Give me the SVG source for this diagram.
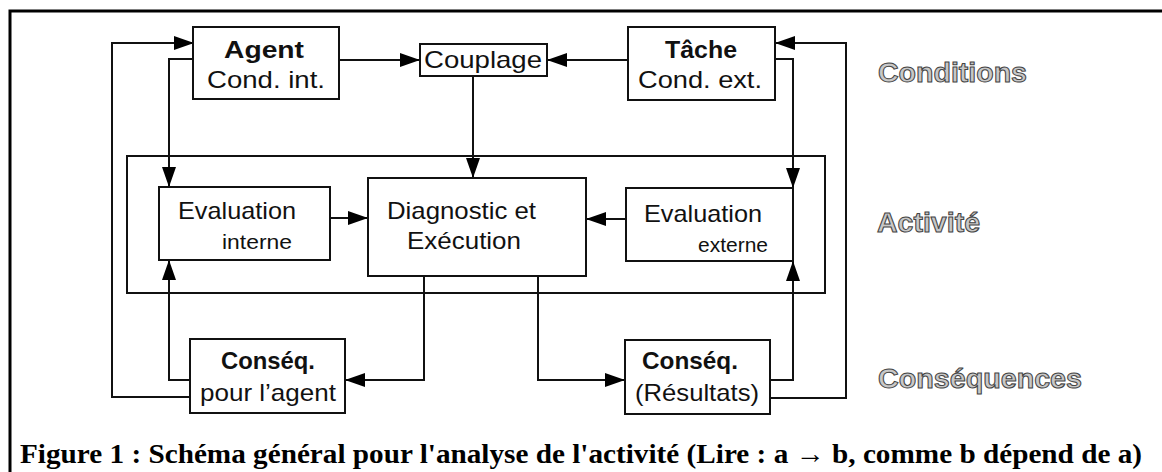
<svg xmlns="http://www.w3.org/2000/svg" width="1162" height="472" viewBox="0 0 1162 472">
<defs>
<marker id="ah" markerUnits="userSpaceOnUse" markerWidth="20" markerHeight="14" refX="19" refY="7" orient="auto">
<path d="M0,0 L20,7 L0,14 Z" fill="#000"/>
</marker>
<style>
.box{fill:#fff;stroke:#111;stroke-width:2}
.c{fill:none;stroke:#111;stroke-width:2;marker-end:url(#ah)}
.t{font-family:"Liberation Sans",Arial,sans-serif;font-size:24px;fill:#111}
.b{font-weight:bold}
.s{font-size:21px}
.lab{font-family:"Liberation Sans",Arial,sans-serif;font-size:27px;font-weight:bold;fill:#c8c8c8;stroke:#444;stroke-width:1}
.cap{font-family:"Liberation Serif","Times New Roman",serif;font-size:28px;font-weight:bold;fill:#000}
</style>
</defs>
<rect width="1162" height="472" fill="#fff"/>
<path d="M1162,11 H10 V472" fill="none" stroke="#000" stroke-width="3"/>
<g id="activite-frame"><rect x="127" y="156" width="698" height="137" fill="none" stroke="#111" stroke-width="2"/></g>
<g id="connectors">
<path class="c" d="M190,397 H112 V43 H193"/>
<path class="c" d="M193,59 H169 V186"/>
<path class="c" d="M190,380 H169 V261"/>
<path class="c" d="M339,60 H419"/>
<path class="c" d="M627,60 H548"/>
<path class="c" d="M473,76 V177"/>
<path class="c" d="M330,218 H367"/>
<path class="c" d="M626,219 H587"/>
<path class="c" d="M775,59 H793 V187"/>
<path class="c" d="M770,380 H793 V262"/>
<path class="c" d="M770,398 H846 V43 H776"/>
<path class="c" d="M424,276 V380 H346"/>
<path class="c" d="M538,276 V380 H624"/>
</g>
<g id="agent"><rect class="box" x="193" y="27" width="146" height="72"/>
<text class="t b" x="264" y="58" text-anchor="middle" textLength="80" lengthAdjust="spacingAndGlyphs">Agent</text>
<text class="t" x="266" y="88" text-anchor="middle" textLength="118" lengthAdjust="spacingAndGlyphs">Cond. int.</text></g>
<g id="couplage"><rect class="box" x="420" y="44" width="127" height="32"/>
<text class="t" x="483" y="68" text-anchor="middle" textLength="118" lengthAdjust="spacingAndGlyphs">Couplage</text></g>
<g id="tache"><rect class="box" x="628" y="27" width="147" height="73"/>
<text class="t b" x="701" y="58" text-anchor="middle" textLength="72" lengthAdjust="spacingAndGlyphs">Tâche</text>
<text class="t" x="700" y="88" text-anchor="middle" textLength="124" lengthAdjust="spacingAndGlyphs">Cond. ext.</text></g>
<g id="eval-interne"><rect class="box" x="159" y="187" width="171" height="73"/>
<text class="t" x="178" y="219" textLength="118" lengthAdjust="spacingAndGlyphs">Evaluation</text>
<text class="t s" x="222" y="249" textLength="70" lengthAdjust="spacingAndGlyphs">interne</text></g>
<g id="diagnostic"><rect class="box" x="368" y="178" width="218" height="98"/>
<text class="t" x="387" y="219" textLength="149" lengthAdjust="spacingAndGlyphs">Diagnostic et</text>
<text class="t" x="407" y="249" textLength="114" lengthAdjust="spacingAndGlyphs">Exécution</text></g>
<g id="eval-externe"><rect class="box" x="626" y="188" width="167" height="73"/>
<text class="t" x="644" y="222" textLength="118" lengthAdjust="spacingAndGlyphs">Evaluation</text>
<text class="t s" x="698" y="252" textLength="70" lengthAdjust="spacingAndGlyphs">externe</text></g>
<g id="conseq-agent"><rect class="box" x="190" y="339" width="155" height="74"/>
<text class="t b" x="268" y="369" text-anchor="middle" textLength="94" lengthAdjust="spacingAndGlyphs">Conséq.</text>
<text class="t" x="268" y="401" text-anchor="middle" textLength="136" lengthAdjust="spacingAndGlyphs">pour l’agent</text></g>
<g id="conseq-resultats"><rect class="box" x="625" y="340" width="145" height="74"/>
<text class="t b" x="690" y="369" text-anchor="middle" textLength="96" lengthAdjust="spacingAndGlyphs">Conséq.</text>
<text class="t" x="697" y="401" text-anchor="middle" textLength="124" lengthAdjust="spacingAndGlyphs">(Résultats)</text></g>
<g id="labels">
<text class="lab" x="878" y="82" textLength="149" lengthAdjust="spacingAndGlyphs">Conditions</text>
<text class="lab" x="877" y="232" textLength="103" lengthAdjust="spacingAndGlyphs">Activité</text>
<text class="lab" x="878" y="388" textLength="204" lengthAdjust="spacingAndGlyphs">Conséquences</text>
</g>
<text class="cap" x="20" y="463" textLength="1122" lengthAdjust="spacingAndGlyphs">Figure 1 : Schéma général pour l'analyse de l'activité (Lire : a → b, comme b dépend de a)</text>
</svg>
